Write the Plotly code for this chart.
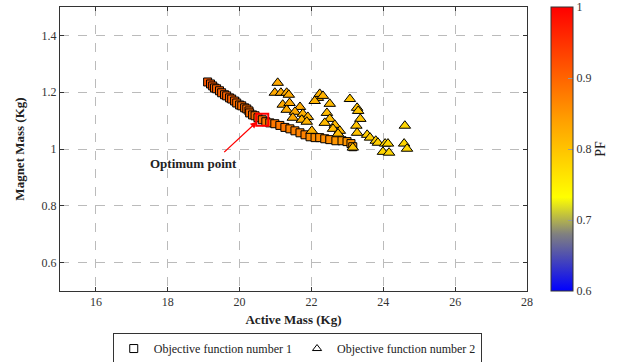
import plotly.graph_objects as go

# Objective function 1 (squares)
obj1_active = [19.11, 19.19, 19.25, 19.30, 19.36, 19.44, 19.50, 19.58, 19.64, 19.72,
               19.78, 19.86, 19.92, 20.00, 20.06, 20.14, 20.20, 20.26, 20.28, 20.36,
               20.43, 20.51, 20.63, 20.73, 20.84, 20.98, 21.12, 21.26, 21.40, 21.54,
               21.68, 21.82, 21.96, 22.10, 22.23, 22.37, 22.51, 22.68, 22.85, 22.99,
               23.10, 23.15]
obj1_magnet = [1.236, 1.229, 1.222, 1.215, 1.212, 1.205, 1.198, 1.191, 1.187, 1.180,
               1.176, 1.169, 1.162, 1.155, 1.152, 1.145, 1.141, 1.134, 1.127, 1.120,
               1.117, 1.110, 1.103, 1.096, 1.092, 1.089, 1.083, 1.076, 1.071, 1.064,
               1.057, 1.050, 1.043, 1.040, 1.040, 1.036, 1.033, 1.029, 1.029, 1.026,
               1.019, 1.008]
obj1_pf = [0.91, 0.91, 0.91, 0.90, 0.90, 0.90, 0.90, 0.90, 0.90, 0.90,
           0.90, 0.90, 0.89, 0.89, 0.89, 0.89, 0.89, 0.89, 0.89, 0.89,
           0.89, 0.89, 0.89, 0.88, 0.88, 0.88, 0.88, 0.88, 0.87, 0.87,
           0.87, 0.87, 0.86, 0.86, 0.86, 0.86, 0.86, 0.85, 0.85, 0.85,
           0.85, 0.85]

# Objective function 2 (triangles)
obj2_active = [21.06, 20.98, 21.15, 21.31, 21.37, 21.20, 21.39, 21.68, 21.31, 21.54,
               21.76, 21.90, 21.48, 21.73, 21.87, 22.01, 22.18, 22.23, 22.32, 22.09,
               22.51, 22.43, 22.51, 22.37, 22.65, 22.60, 22.79, 22.74, 23.07, 23.27,
               23.30, 23.36, 23.25, 23.27, 23.15, 23.55, 23.63, 23.79, 23.85, 24.05,
               24.13, 23.99, 24.16, 24.60, 24.58, 24.66]
obj2_magnet = [1.233, 1.198, 1.198, 1.198, 1.191, 1.156, 1.162, 1.148, 1.138, 1.131,
               1.124, 1.113, 1.110, 1.103, 1.096, 1.064, 1.180, 1.194, 1.187, 1.169,
               1.159, 1.127, 1.106, 1.092, 1.085, 1.071, 1.064, 1.054, 1.176, 1.145,
               1.134, 1.106, 1.082, 1.057, 1.005, 1.050, 1.040, 1.029, 1.022, 1.019,
               1.019, 0.990, 0.987, 1.082, 1.019, 1.001]
obj2_pf = [0.83, 0.83, 0.83, 0.83, 0.83, 0.83, 0.83, 0.83, 0.83, 0.83,
           0.82, 0.82, 0.83, 0.82, 0.82, 0.82, 0.82, 0.82, 0.82, 0.82,
           0.81, 0.81, 0.81, 0.81, 0.81, 0.81, 0.81, 0.81, 0.80, 0.80,
           0.80, 0.80, 0.80, 0.80, 0.80, 0.79, 0.79, 0.79, 0.79, 0.78,
           0.78, 0.78, 0.78, 0.78, 0.78, 0.78]

# Optimum point
opt_active = [20.63]
opt_magnet = [1.103]
opt_label = "Optimum point"
opt_label_pos = (18.72, 0.948)
opt_arrow_tail = (19.53, 0.984)
opt_arrow_head = (20.48, 1.096)

x_ticks = [16, 18, 20, 22, 24, 26, 28]
y_ticks = [0.6, 0.8, 1.0, 1.2, 1.4]
y_tick_text = ["0.6", "0.8", "1", "1.2", "1.4"]
pf_ticks = [0.6, 0.7, 0.8, 0.9, 1.0]
pf_tick_text = ["0.6", "0.7", "0.8", "0.9", "1"]

FONT = "Liberation Serif"

colorscale = [
    [0.0, "rgb(0,0,255)"],
    [0.2, "rgb(128,128,128)"],
    [0.33, "rgb(255,255,0)"],
    [0.6, "rgb(255,160,0)"],
    [1.0, "rgb(255,0,0)"],
]

fig = go.Figure()

fig.add_trace(go.Scatter(
    x=obj1_active, y=obj1_magnet, mode="markers", showlegend=False,
    marker=dict(symbol="square", size=8, color=obj1_pf, coloraxis="coloraxis",
                line=dict(color="black", width=1)),
))
fig.add_trace(go.Scatter(
    x=obj2_active, y=obj2_magnet, mode="markers", showlegend=False,
    marker=dict(symbol="triangle-up", size=10, color=obj2_pf, coloraxis="coloraxis",
                line=dict(color="black", width=1)),
))
fig.add_trace(go.Scatter(
    x=opt_active, y=opt_magnet, mode="markers", showlegend=False,
    marker=dict(symbol="square-open", size=12, color="red", line=dict(width=2)),
))
# legend entries
fig.add_trace(go.Scatter(
    x=[None], y=[None], mode="markers", name="Objective function number 1",
    marker=dict(symbol="square-open", size=8, color="black", line=dict(width=1)),
))
fig.add_trace(go.Scatter(
    x=[None], y=[None], mode="markers", name="Objective function number 2",
    marker=dict(symbol="triangle-up-open", size=8, color="black", line=dict(width=1)),
))

fig.add_annotation(
    x=opt_arrow_head[0], y=opt_arrow_head[1], ax=opt_arrow_tail[0], ay=opt_arrow_tail[1],
    xref="x", yref="y", axref="x", ayref="y", text="", showarrow=True,
    arrowhead=2, arrowsize=1, arrowwidth=1.3, arrowcolor="red",
)
fig.add_annotation(
    x=opt_label_pos[0], y=opt_label_pos[1], xref="x", yref="y",
    text="<b>" + opt_label + "</b>", showarrow=False,
    font=dict(family=FONT, size=13, color="#222"),
)

axis_common = dict(
    showline=True, linecolor="#333", linewidth=1, mirror="allticks",
    ticks="inside", ticklen=4, tickcolor="#333",
    showgrid=True, gridcolor="#bbbbbb", griddash="dash", gridwidth=1,
    zeroline=False, tickfont=dict(family=FONT, size=12, color="#333"),
)

fig.update_layout(
    width=633, height=362,
    margin=dict(l=60, r=106, t=7, b=71, autoexpand=False),
    paper_bgcolor="white", plot_bgcolor="white",
    font=dict(family=FONT, color="#222"),
    xaxis=dict(range=[15, 28], tickvals=x_ticks,
               title=dict(text="<b>Active Mass (Kg)</b>", font=dict(family=FONT, size=13), standoff=6),
               **axis_common),
    yaxis=dict(range=[0.5, 1.5], tickvals=y_ticks, ticktext=y_tick_text,
               title=dict(text="<b>Magnet Mass (Kg)</b>", font=dict(family=FONT, size=13), standoff=14),
               **axis_common),
    coloraxis=dict(
        cmin=0.6, cmax=1.0, colorscale=colorscale,
        colorbar=dict(
            x=1.051, xanchor="left", xpad=0, ypad=0,
            y=0.5, yanchor="middle", len=1.0, lenmode="fraction",
            thickness=22, outlinewidth=1, outlinecolor="#333",
            tickvals=pf_ticks, ticktext=pf_tick_text, ticks="inside", ticklen=5,
            tickcolor="#999", tickfont=dict(family=FONT, size=12, color="#333"),
            title=dict(text="PF", side="right", font=dict(family=FONT, size=14)),
        ),
    ),
    legend=dict(
        orientation="h", x=0.508, xanchor="center", y=-0.148, yanchor="top",
        bordercolor="#333", borderwidth=1, font=dict(family=FONT, size=12, color="#222"),
        itemwidth=30, tracegroupgap=0,
    ),
)

fig.write_html("out.html", config={"displayModeBar": False},
               post_script="document.body.style.margin='0px';")
